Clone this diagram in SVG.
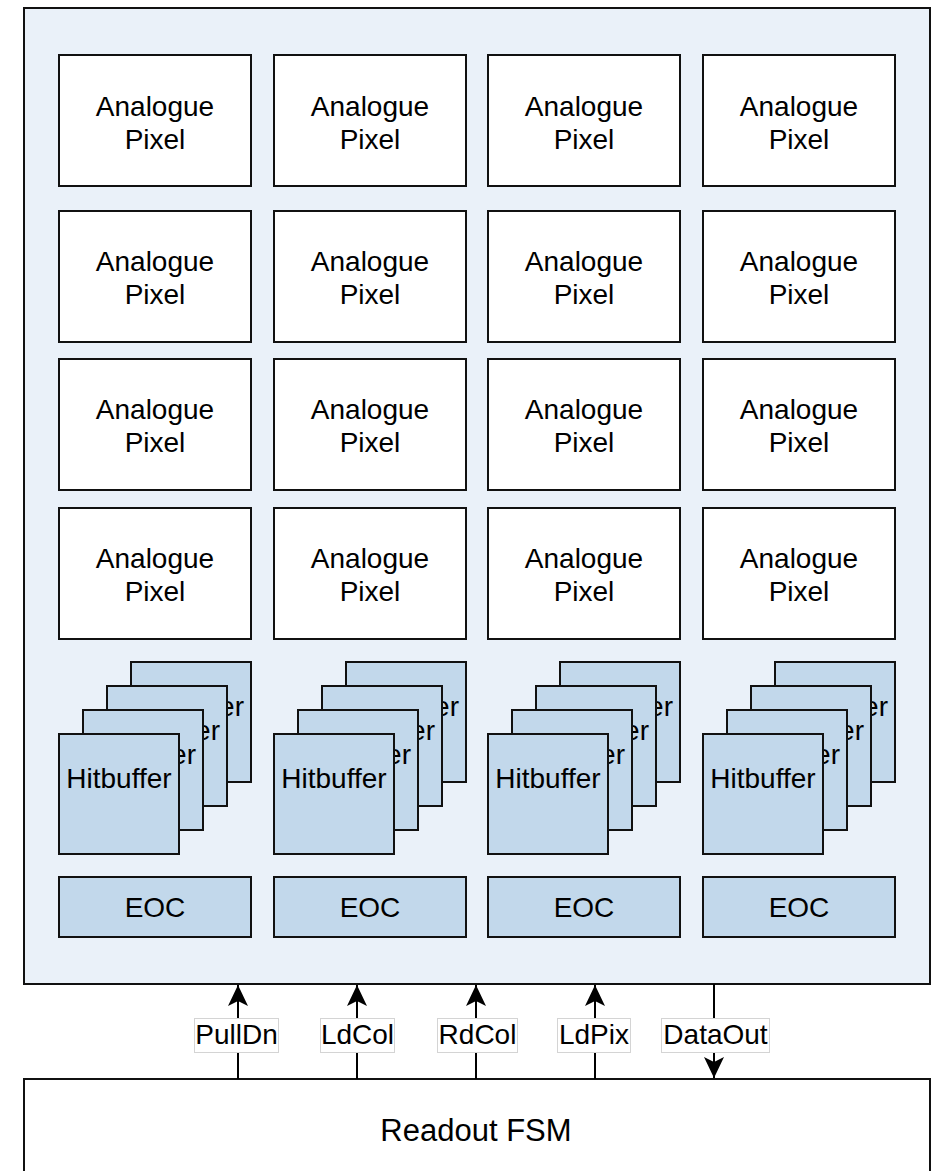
<svg xmlns="http://www.w3.org/2000/svg" width="935" height="1171" viewBox="0 0 935 1171">
<defs>
<style>
text{font-family:"Liberation Sans",Arial,Helvetica,sans-serif;font-size:28px;fill:#000;text-anchor:middle}
text.tail{text-anchor:end}
.outer{fill:#eaf1f9;stroke:#111;stroke-width:2}
.pix{fill:#fff;stroke:#111;stroke-width:2}
.hb{fill:#c2d8eb;stroke:#111;stroke-width:2}
.fsm{fill:#fff;stroke:#111;stroke-width:2}
.wire{fill:none;stroke:#000;stroke-width:2}
.lbl{fill:#fff;stroke:#d4d4d4;stroke-width:1}
</style>
<marker id="arr" markerUnits="userSpaceOnUse" viewBox="-22 -12 24 24" refX="0" refY="0" markerWidth="24" markerHeight="24" orient="auto">
<path d="M0,0 L-21,-10 L-16,0 L-21,10 Z" fill="#000"/>
</marker>
</defs>

<g id="matrix">
<rect class="outer" x="24" y="8" width="906" height="976"/>
</g>

<g id="pixels">
<g id="pix-r1c1"><rect class="pix" x="59" y="55" width="192" height="131"/><text x="155" y="116">Analogue</text><text x="155" y="149">Pixel</text></g>
<g id="pix-r1c2"><rect class="pix" x="274" y="55" width="192" height="131"/><text x="370" y="116">Analogue</text><text x="370" y="149">Pixel</text></g>
<g id="pix-r1c3"><rect class="pix" x="488" y="55" width="192" height="131"/><text x="584" y="116">Analogue</text><text x="584" y="149">Pixel</text></g>
<g id="pix-r1c4"><rect class="pix" x="703" y="55" width="192" height="131"/><text x="799" y="116">Analogue</text><text x="799" y="149">Pixel</text></g>

<g id="pix-r2c1"><rect class="pix" x="59" y="211" width="192" height="131"/><text x="155" y="271">Analogue</text><text x="155" y="304">Pixel</text></g>
<g id="pix-r2c2"><rect class="pix" x="274" y="211" width="192" height="131"/><text x="370" y="271">Analogue</text><text x="370" y="304">Pixel</text></g>
<g id="pix-r2c3"><rect class="pix" x="488" y="211" width="192" height="131"/><text x="584" y="271">Analogue</text><text x="584" y="304">Pixel</text></g>
<g id="pix-r2c4"><rect class="pix" x="703" y="211" width="192" height="131"/><text x="799" y="271">Analogue</text><text x="799" y="304">Pixel</text></g>

<g id="pix-r3c1"><rect class="pix" x="59" y="359" width="192" height="131"/><text x="155" y="419">Analogue</text><text x="155" y="452">Pixel</text></g>
<g id="pix-r3c2"><rect class="pix" x="274" y="359" width="192" height="131"/><text x="370" y="419">Analogue</text><text x="370" y="452">Pixel</text></g>
<g id="pix-r3c3"><rect class="pix" x="488" y="359" width="192" height="131"/><text x="584" y="419">Analogue</text><text x="584" y="452">Pixel</text></g>
<g id="pix-r3c4"><rect class="pix" x="703" y="359" width="192" height="131"/><text x="799" y="419">Analogue</text><text x="799" y="452">Pixel</text></g>

<g id="pix-r4c1"><rect class="pix" x="59" y="508" width="192" height="131"/><text x="155" y="568">Analogue</text><text x="155" y="601">Pixel</text></g>
<g id="pix-r4c2"><rect class="pix" x="274" y="508" width="192" height="131"/><text x="370" y="568">Analogue</text><text x="370" y="601">Pixel</text></g>
<g id="pix-r4c3"><rect class="pix" x="488" y="508" width="192" height="131"/><text x="584" y="568">Analogue</text><text x="584" y="601">Pixel</text></g>
<g id="pix-r4c4"><rect class="pix" x="703" y="508" width="192" height="131"/><text x="799" y="568">Analogue</text><text x="799" y="601">Pixel</text></g>
</g>

<g id="hitbuffers">
<g id="hb-c1">
<rect class="hb" x="131" y="662" width="120" height="120"/><text class="tail" x="244" y="716">er</text>
<rect class="hb" x="107" y="686" width="120" height="120"/><text class="tail" x="220" y="740">er</text>
<rect class="hb" x="83" y="710" width="120" height="120"/><text class="tail" x="196" y="764">er</text>
<rect class="hb" x="59" y="734" width="120" height="120"/><text x="119" y="788">Hitbuffer</text>
</g>
<g id="hb-c2">
<rect class="hb" x="346" y="662" width="120" height="120"/><text class="tail" x="459" y="716">er</text>
<rect class="hb" x="322" y="686" width="120" height="120"/><text class="tail" x="435" y="740">er</text>
<rect class="hb" x="298" y="710" width="120" height="120"/><text class="tail" x="411" y="764">er</text>
<rect class="hb" x="274" y="734" width="120" height="120"/><text x="334" y="788">Hitbuffer</text>
</g>
<g id="hb-c3">
<rect class="hb" x="560" y="662" width="120" height="120"/><text class="tail" x="673" y="716">er</text>
<rect class="hb" x="536" y="686" width="120" height="120"/><text class="tail" x="649" y="740">er</text>
<rect class="hb" x="512" y="710" width="120" height="120"/><text class="tail" x="625" y="764">er</text>
<rect class="hb" x="488" y="734" width="120" height="120"/><text x="548" y="788">Hitbuffer</text>
</g>
<g id="hb-c4">
<rect class="hb" x="775" y="662" width="120" height="120"/><text class="tail" x="888" y="716">er</text>
<rect class="hb" x="751" y="686" width="120" height="120"/><text class="tail" x="864" y="740">er</text>
<rect class="hb" x="727" y="710" width="120" height="120"/><text class="tail" x="840" y="764">er</text>
<rect class="hb" x="703" y="734" width="120" height="120"/><text x="763" y="788">Hitbuffer</text>
</g>
</g>

<g id="eocs">
<g id="eoc-c1"><rect class="hb" x="59" y="877" width="192" height="60"/><text x="155" y="917">EOC</text></g>
<g id="eoc-c2"><rect class="hb" x="274" y="877" width="192" height="60"/><text x="370" y="917">EOC</text></g>
<g id="eoc-c3"><rect class="hb" x="488" y="877" width="192" height="60"/><text x="584" y="917">EOC</text></g>
<g id="eoc-c4"><rect class="hb" x="703" y="877" width="192" height="60"/><text x="799" y="917">EOC</text></g>
</g>

<g id="readout-fsm">
<rect class="fsm" x="24" y="1079" width="906" height="140"/>
<text x="476" y="1141" style="font-size:31px">Readout FSM</text>
</g>

<g id="connectors">
<line class="wire" x1="238" y1="1079" x2="238" y2="985" marker-end="url(#arr)"/>
<line class="wire" x1="357" y1="1079" x2="357" y2="985" marker-end="url(#arr)"/>
<line class="wire" x1="476" y1="1079" x2="476" y2="985" marker-end="url(#arr)"/>
<line class="wire" x1="595" y1="1079" x2="595" y2="985" marker-end="url(#arr)"/>
<line class="wire" x1="714" y1="984" x2="714" y2="1078" marker-end="url(#arr)"/>
<g id="labels">
<rect class="lbl" x="194.5" y="1018.5" width="84" height="34"/><text x="236.5" y="1044">PullDn</text>
<rect class="lbl" x="320.5" y="1018.5" width="74" height="34"/><text x="357.5" y="1044">LdCol</text>
<rect class="lbl" x="437.5" y="1018.5" width="80" height="34"/><text x="477.5" y="1044">RdCol</text>
<rect class="lbl" x="557.5" y="1018.5" width="73" height="34"/><text x="594" y="1044">LdPix</text>
<rect class="lbl" x="661.5" y="1018.5" width="108" height="34"/><text x="715.5" y="1044">DataOut</text>
</g>
</g>
</svg>
